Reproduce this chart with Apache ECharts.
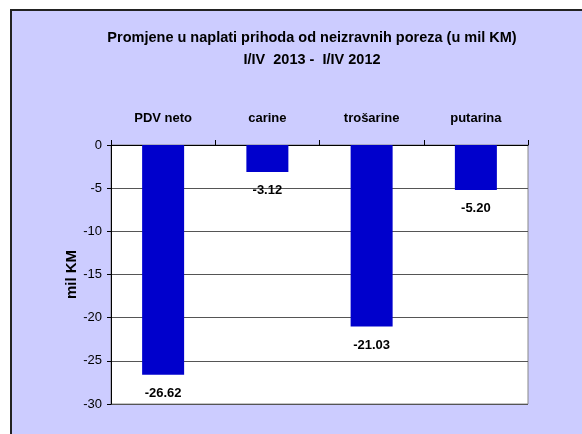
<!DOCTYPE html>
<html>
<head>
<meta charset="utf-8">
<script src="https://cdn.jsdelivr.net/npm/echarts@6/dist/echarts.min.js"></script>
<style>
html,body{margin:0;padding:0;background:#fff;width:582px;height:434px;overflow:hidden;}
#frame{position:absolute;left:10px;top:9px;width:572px;height:425px;border-top:2px solid #222;border-left:2px solid #222;background:#CCCCFF;}
#chart{position:absolute;left:0;top:0;width:572px;height:425px;}
</style>
</head>
<body>
<div id="frame"><div id="chart"></div></div>
<script>
const categories = ['PDV neto', 'carine', 'trošarine', 'putarina'];
const values = [-26.62, -3.12, -21.03, -5.20];
const yTicks = [0, -5, -10, -15, -20, -25, -30];
const titleLines = ['Promjene u naplati prihoda od neizravnih poreza (u mil KM)', 'I/IV  2013 -  I/IV 2012'];
const yName = 'mil KM';

const chart = echarts.init(document.getElementById('chart'), null, {renderer: 'canvas'});
const FONT = 'Liberation Sans, Arial, sans-serif';
chart.setOption({
  backgroundColor: 'transparent',
  animation: false,
  title: {
    text: titleLines.join('\n'),
    left: 295, top: 11, textAlign: 'center',
    textStyle: {fontFamily: FONT, fontSize: 14.5, fontWeight: 'bold', color: '#000', lineHeight: 22}
  },
  grid: {left: 99, right: 56, top: 134, bottom: 32, show: true, backgroundColor: '#fff', borderColor: '#888', borderWidth: 1},
  xAxis: {
    type: 'category', position: 'top', data: categories,
    axisLine: {show: true, onZero: false, lineStyle: {color: '#000', width: 1}},
    axisTick: {show: true, inside: false, length: 5, lineStyle: {color: '#000'}},
    axisLabel: {margin: 20, fontFamily: FONT, fontSize: 13, fontWeight: 'bold', color: '#000'}
  },
  yAxis: {
    type: 'value', min: -30, max: 0, interval: 5,
    name: yName, nameLocation: 'middle', nameGap: 32, nameRotate: 90, nameMoveOverlap: false,
    nameTextStyle: {fontFamily: FONT, fontSize: 15, fontWeight: 'bold', color: '#000'},
    axisLine: {show: true, lineStyle: {color: '#000', width: 1}},
    axisTick: {show: true, inside: false, length: 4, lineStyle: {color: '#000'}},
    axisLabel: {margin: 9, fontFamily: FONT, fontSize: 13, color: '#000',
      formatter: v => yTicks.includes(v) ? String(v) : ''},
    splitLine: {show: true, lineStyle: {color: '#555', width: 1}}
  },
  series: [{
    type: 'bar', data: values, barWidth: 42,
    itemStyle: {color: '#0000CC'},
    label: {show: true, position: 'bottom', distance: 12, fontFamily: FONT, fontSize: 13, fontWeight: 'bold', color: '#000',
      formatter: p => p.value.toFixed(2)}
  }]
});
</script>
</body>
</html>
